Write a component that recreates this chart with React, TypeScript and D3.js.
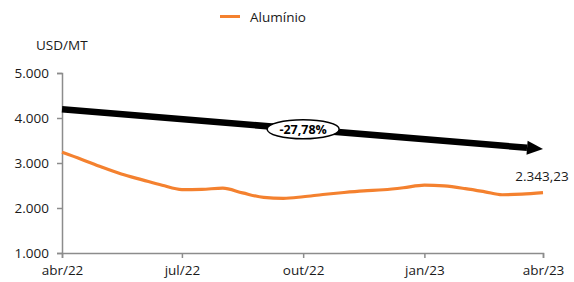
import React, { useEffect, useRef } from 'react';
import * as d3 from 'd3';

// half-month samples, abr/22 .. abr/23
const dates = [
  '2022-04-01', '2022-04-16', '2022-05-01', '2022-05-16', '2022-06-01', '2022-06-16',
  '2022-07-01', '2022-07-16', '2022-08-01', '2022-08-16', '2022-09-01', '2022-09-16',
  '2022-10-01', '2022-10-16', '2022-11-01', '2022-11-16', '2022-12-01', '2022-12-16',
  '2023-01-01', '2023-01-16', '2023-02-01', '2023-02-16', '2023-03-01', '2023-03-16',
  '2023-04-01',
];
const aluminio = [
  3240, 3080, 2910, 2755, 2625, 2505,
  2410, 2415, 2440, 2335, 2235, 2215,
  2250, 2300, 2345, 2380, 2405, 2450,
  2510, 2490, 2430, 2360, 2295, 2310,
  2343,
];
const trendDates = ['2022-04-01', '2023-04-01'];
const trendValues = [4195, 3310];
const tickDates = ['2022-04-01', '2022-07-01', '2022-10-01', '2023-01-01', '2023-04-01'];
const tickLabels = ['abr/22', 'jul/22', 'out/22', 'jan/23', 'abr/23'];
const yTicks = [1000, 2000, 3000, 4000, 5000];
const trendLabel = '-27,78%';
const lastLabel = '2.343,23';
const seriesName = 'Alumínio';
const unitLabel = 'USD/MT';

const W = 574;
const H = 282;
const FONT = '"Open Sans", "Noto Sans", sans-serif';
const ORANGE = '#F4812F';

export default function App() {
  const ref = useRef<SVGSVGElement>(null);

  useEffect(() => {
    document.body.style.margin = '0';
    const svg = d3.select(ref.current);
    svg.selectAll('*').remove();

    const parse = d3.timeParse('%Y-%m-%d');
    const x = d3.scaleTime()
      .domain([parse(dates[0])!, parse(dates[dates.length - 1])!])
      .range([62, 543]);
    const y = d3.scaleLinear().domain([1000, 5000]).range([253, 73]);

    const g = svg.append('g');

    // y axis
    const yAxis = g.append('g')
      .attr('transform', 'translate(62,0)')
      .call(d3.axisLeft(y).tickValues(yTicks).tickSize(5)
        .tickFormat(d => d3.format(',')(d as number).replace(/,/g, '.')));
    yAxis.select('.domain').attr('stroke', '#8c8c8c').attr('stroke-width', 1.5);
    yAxis.selectAll('line').attr('stroke', '#8c8c8c').attr('stroke-width', 1.5);
    yAxis.selectAll('text')
      .attr('x', -13)
      .style('font-family', FONT)
      .style('font-size', '13.5px')
      .attr('fill', '#1a1a1a');

    // x axis
    const xAxis = g.append('g')
      .attr('transform', 'translate(0,253)')
      .call(d3.axisBottom(x).tickValues(tickDates.map(d => parse(d)!)).tickSize(5)
        .tickFormat((_, i) => tickLabels[i]));
    xAxis.select('.domain').attr('stroke', '#8c8c8c').attr('stroke-width', 1.5);
    xAxis.selectAll('line').attr('stroke', '#8c8c8c').attr('stroke-width', 1.5);
    xAxis.selectAll('text')
      .attr('y', 12)
      .style('font-family', FONT)
      .style('font-size', '13.5px')
      .attr('fill', '#1a1a1a');

    // unit
    g.append('text')
      .attr('x', 36)
      .attr('y', 50)
      .style('font-family', FONT)
      .style('font-size', '13.5px')
      .attr('fill', '#1a1a1a')
      .text(unitLabel);

    // series line
    const line = d3.line<number>()
      .x((_, i) => x(parse(dates[i])!))
      .y(d => y(d))
      .curve(d3.curveMonotoneX);
    g.append('path')
      .datum(aluminio)
      .attr('fill', 'none')
      .attr('stroke', ORANGE)
      .attr('stroke-width', 3.2)
      .attr('d', line);

    // trend arrow
    const x0 = x(parse(trendDates[0])!);
    const y0 = y(trendValues[0]);
    const x1 = x(parse(trendDates[1])!);
    const y1 = y(trendValues[1]);
    const ang = Math.atan2(y1 - y0, x1 - x0);
    const headLen = 16;
    const headW = 7;
    const bx = x1 - headLen * Math.cos(ang);
    const by = y1 - headLen * Math.sin(ang);
    g.append('line')
      .attr('x1', x0).attr('y1', y0)
      .attr('x2', bx).attr('y2', by)
      .attr('stroke', '#000')
      .attr('stroke-width', 6.5);
    const px = -Math.sin(ang) * headW;
    const py = Math.cos(ang) * headW;
    g.append('path')
      .attr('d', `M${x1},${y1}L${bx + px},${by + py}L${bx - px},${by - py}Z`)
      .attr('fill', '#000');

    // trend label
    const mx = x(parse('2022-10-01')!);
    const my = y0 + (y1 - y0) * ((mx - x0) / (x1 - x0));
    g.append('ellipse')
      .attr('cx', mx)
      .attr('cy', my)
      .attr('rx', 36)
      .attr('ry', 9.5)
      .attr('fill', '#fff')
      .attr('stroke', '#000')
      .attr('stroke-width', 1.5);
    g.append('text')
      .attr('x', mx)
      .attr('y', my + 4.5)
      .attr('text-anchor', 'middle')
      .style('font-family', FONT)
      .style('font-size', '12.5px')
      .style('font-weight', 'bold')
      .attr('fill', '#000')
      .text(trendLabel);

    // last value label
    g.append('text')
      .attr('x', x(parse(dates[dates.length - 1])!) - 1)
      .attr('y', 181)
      .attr('text-anchor', 'middle')
      .style('font-family', FONT)
      .style('font-size', '13.5px')
      .attr('fill', '#1a1a1a')
      .text(lastLabel);

    // legend
    g.append('line')
      .attr('x1', 220).attr('x2', 240)
      .attr('y1', 16.5).attr('y2', 16.5)
      .attr('stroke', ORANGE)
      .attr('stroke-width', 3);
    g.append('text')
      .attr('x', 250)
      .attr('y', 22)
      .style('font-family', FONT)
      .style('font-size', '13.5px')
      .attr('fill', '#1a1a1a')
      .text(seriesName);
  }, []);

  return <svg ref={ref} width={W} height={H} style={{ display: 'block', background: '#fff' }} />;
}
